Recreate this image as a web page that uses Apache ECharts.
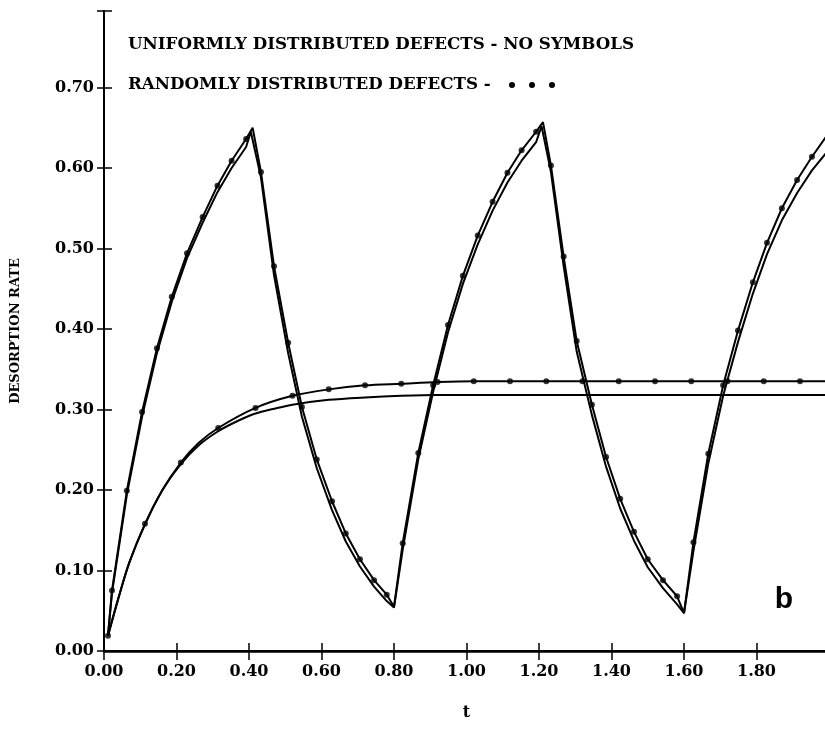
<!DOCTYPE html>
<html><head><meta charset="utf-8">
<script src="https://cdn.jsdelivr.net/npm/echarts@6/dist/echarts.min.js"></script>
<style>html,body{margin:0;padding:0;background:#fff}#c{width:825px;height:732px}</style>
</head><body><div id="c"></div>
<script>
// ---- data ----
// Uniformly distributed defects, constant supply (no symbols)
const ucT = [0.011,0.04,0.07,0.113,0.16,0.212,0.26,0.315,0.37,0.418,0.47,0.52,0.62,0.72,0.82,0.92,1.2,1.6,2.0];
const ucV = [0.019,0.066,0.110,0.157,0.199,0.232,0.255,0.273,0.286,0.295,0.301,0.306,0.312,0.315,0.317,0.318,0.318,0.318,0.318];
// Randomly distributed defects, constant supply (dots)
const rcDotT = [0.011,0.113,0.212,0.315,0.418,0.520,0.620,0.720,0.820,0.920,1.020,1.120,1.220,1.320,1.420,1.520,1.620,1.720,1.820,1.920];
const rcDotV = [0.019,0.158,0.234,0.277,0.302,0.317,0.325,0.330,0.332,0.334,0.335,0.335,0.335,0.335,0.335,0.335,0.335,0.335,0.335,0.335];
const rcExtraT = [0.04,0.07,0.16,0.26,2.0];
const rcExtraV = [0.066,0.110,0.199,0.258,0.335];
// Uniformly distributed defects, periodic supply (no symbols)
const upT = [0.011,0.022,0.063,0.105,0.146,0.187,0.229,0.272,0.313,0.352,0.392,0.405,
  0.433,0.469,0.508,0.546,0.587,0.629,0.667,0.706,0.745,0.780,0.800,
  0.824,0.867,0.908,0.949,0.990,1.031,1.072,1.113,1.152,1.192,1.207,
  1.233,1.268,1.304,1.346,1.385,1.424,1.462,1.500,1.542,1.581,1.600,
  1.626,1.667,1.708,1.749,1.790,1.829,1.870,1.912,1.953,2.000];
const upV = [0.019,0.072,0.194,0.291,0.370,0.434,0.488,0.532,0.570,0.600,0.626,0.645,
  0.588,0.467,0.370,0.291,0.227,0.175,0.136,0.105,0.080,0.062,0.054,
  0.126,0.238,0.322,0.396,0.456,0.505,0.547,0.582,0.609,0.632,0.652,
  0.595,0.478,0.372,0.293,0.229,0.177,0.137,0.104,0.078,0.058,0.047,
  0.124,0.233,0.317,0.384,0.444,0.493,0.535,0.569,0.597,0.623];
// Randomly distributed defects, periodic supply (dots)
const rpDotT = [0.022,0.063,0.105,0.146,0.187,0.229,0.272,0.313,0.352,0.392,
  0.433,0.469,0.508,0.546,0.587,0.629,0.667,0.706,0.745,0.780,
  0.824,0.867,0.908,0.949,0.990,1.031,1.072,1.113,1.152,1.192,
  1.233,1.268,1.304,1.346,1.385,1.424,1.462,1.500,1.542,1.581,
  1.626,1.667,1.708,1.749,1.790,1.829,1.870,1.912,1.953];
const rpDotV = [0.075,0.199,0.297,0.376,0.440,0.494,0.539,0.578,0.609,0.636,
  0.595,0.478,0.383,0.303,0.238,0.186,0.146,0.114,0.088,0.070,
  0.134,0.246,0.330,0.405,0.466,0.516,0.558,0.594,0.622,0.645,
  0.603,0.490,0.385,0.306,0.241,0.189,0.148,0.114,0.088,0.068,
  0.135,0.245,0.330,0.398,0.458,0.507,0.550,0.585,0.614];
const rpExtraT = [0.011,0.410,0.800,1.211,1.600,2.000];
const rpExtraV = [0.019,0.650,0.055,0.657,0.047,0.644];
// axis ticks
const xMin = 0, xMax = 2.0, xStep = 0.2;
const yMin = 0, yMax = 0.795, yStep = 0.1;
const xName = 't';
const yName = 'DESORPTION RATE';
const legendUniform = 'UNIFORMLY DISTRIBUTED DEFECTS - NO SYMBOLS';
const legendRandom = 'RANDOMLY DISTRIBUTED DEFECTS -';
const panelLabel = 'b';

// ---- build ----
const zip = (t, v) => t.map((x, i) => [x, v[i]]);
const merge = (a, b) => a.concat(b).sort((p, q) => p[0] - q[0]);
const black = '#000';
const labelFont = {color: black, fontFamily: 'DejaVu Serif', fontWeight: 'bold', fontSize: 16};
const legendFont = 'bold 16.7px "DejaVu Serif"';

const chart = echarts.init(document.getElementById('c'), null, {renderer: 'canvas'});
chart.setOption({
  animation: false,
  backgroundColor: '#fff',
  grid: {left: 104, top: 11, width: 725, height: 640, containLabel: false, outerBoundsMode: 'none'},
  xAxis: [
    {type: 'value', position: 'bottom', min: xMin, max: xMax, interval: xStep,
     axisLine: {show: true, lineStyle: {color: black, width: 2.5}},
     axisTick: {show: true, inside: true, length: 8, lineStyle: {color: black, width: 1.5}},
     axisLabel: Object.assign({margin: 13, formatter: v => v > 1.9 ? '' : v.toFixed(2)}, labelFont),
     splitLine: {show: false},
     name: xName, nameLocation: 'middle', nameGap: 54,
     nameTextStyle: {color: black, fontFamily: 'DejaVu Serif', fontWeight: 'bold', fontSize: 16}},
    {type: 'value', position: 'top', min: xMin, max: xMax, interval: xStep,
     axisLine: {show: true, lineStyle: {color: black, width: 2}},
     axisTick: {show: true, inside: true, length: 9, lineStyle: {color: black, width: 1.5}},
     axisLabel: {show: false}, splitLine: {show: false}}
  ],
  yAxis: [
    {type: 'value', position: 'left', min: yMin, max: yMax, interval: yStep,
     axisLine: {show: true, lineStyle: {color: black, width: 2}},
     axisTick: {show: true, inside: true, length: 8, lineStyle: {color: black, width: 1.5}},
     axisLabel: Object.assign({margin: 10, padding: [0, 0, 10, 0], formatter: v => v > 0.75 ? '' : v.toFixed(2)}, labelFont),
     splitLine: {show: false},
     name: yName, nameLocation: 'middle', nameGap: 82, nameRotate: 90,
     nameTextStyle: {color: black, fontFamily: 'DejaVu Serif', fontWeight: 'bold', fontSize: 13}},
    {type: 'value', position: 'right', min: yMin, max: yMax, interval: yStep,
     axisLine: {show: true, lineStyle: {color: black, width: 2}},
     axisTick: {show: true, inside: true, length: 7, lineStyle: {color: black, width: 1.5}},
     axisLabel: {show: false}, splitLine: {show: false}}
  ],
  series: [
    {name: 'Uniform constant', type: 'line', data: zip(ucT, ucV), smooth: 0.3, showSymbol: false,
     lineStyle: {color: black, width: 2}, z: 2},
    {name: 'Random constant', type: 'line', data: merge(zip(rcDotT, rcDotV), zip(rcExtraT, rcExtraV)), smooth: 0.3, showSymbol: false,
     lineStyle: {color: black, width: 2}, z: 2},
    {name: 'Random constant dots', type: 'scatter', data: zip(rcDotT, rcDotV), symbol: 'circle', symbolSize: 6,
     itemStyle: {color: black}, z: 3},
    {name: 'Uniform periodic', type: 'line', data: zip(upT, upV), smooth: false, showSymbol: false,
     lineStyle: {color: black, width: 2}, z: 2},
    {name: 'Random periodic', type: 'line', data: merge(zip(rpDotT, rpDotV), zip(rpExtraT, rpExtraV)), smooth: false, showSymbol: false,
     lineStyle: {color: black, width: 2}, z: 2},
    {name: 'Random periodic dots', type: 'scatter', data: zip(rpDotT, rpDotV), symbol: 'circle', symbolSize: 6,
     itemStyle: {color: black}, z: 3}
  ],
  graphic: [
    {type: 'text', x: 128, y: 45, style: {text: legendUniform, fill: black, font: legendFont, verticalAlign: 'middle'}},
    {type: 'text', x: 128, y: 85, style: {text: legendRandom, fill: black, font: legendFont, verticalAlign: 'middle'}},
    {type: 'circle', shape: {cx: 512, cy: 85, r: 3}, style: {fill: black}},
    {type: 'circle', shape: {cx: 532, cy: 85, r: 3}, style: {fill: black}},
    {type: 'circle', shape: {cx: 552, cy: 85, r: 3}, style: {fill: black}},
    {type: 'text', x: 784, y: 600, style: {text: panelLabel, fill: black, font: 'bold 30px "Liberation Sans"', align: 'center', verticalAlign: 'middle'}}
  ]
});
</script></body></html>
